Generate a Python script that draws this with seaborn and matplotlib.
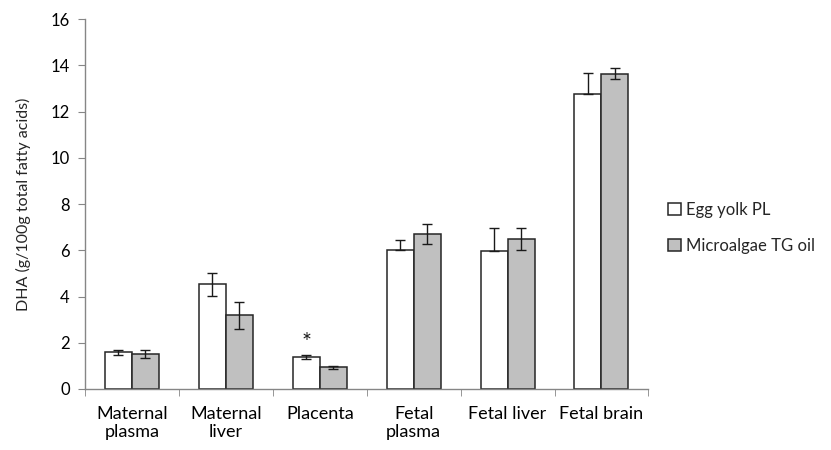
import seaborn as sns
import matplotlib.pyplot as plt
import pandas as pd

# chart values
tissues = ['Maternal\nplasma', 'Maternal\nliver', 'Placenta', 'Fetal\nplasma', 'Fetal liver', 'Fetal brain']
groups = ['Egg yolk PL', 'Microalgae TG oil']
egg_yolk = [1.59, 4.52, 1.37, 6.02, 5.97, 12.77]
egg_yolk_err_low = [0.10, 0.48, 0.08, 0.0, 0.0, 0.0]
egg_yolk_err_high = [0.10, 0.48, 0.08, 0.44, 1.01, 0.88]
microalgae = [1.52, 3.18, 0.94, 6.70, 6.50, 13.63]
microalgae_err = [0.18, 0.58, 0.07, 0.45, 0.48, 0.24]

sns.set_style('white')
plt.rcParams['font.family'] = ['Lato', 'DejaVu Sans']

df = pd.DataFrame({
    'tissue': tissues * 2,
    'group': [groups[0]] * len(tissues) + [groups[1]] * len(tissues),
    'dha': egg_yolk + microalgae,
})

fig = plt.figure(figsize=(8.31, 4.5), dpi=100)
ax = fig.add_axes([0.1023, 0.1356, 0.678, 0.822])

sns.barplot(data=df, x='tissue', y='dha', hue='group', hue_order=groups,
            palette={groups[0]: 'white', groups[1]: '#c0c0c0'},
            edgecolor='#262626', linewidth=1.1, width=0.575, gap=0,
            errorbar=None, ax=ax)

# error bars on top of each bar
errs = [(egg_yolk_err_low, egg_yolk_err_high), (microalgae_err, microalgae_err)]
for cont, (lo, hi) in zip(ax.containers, errs):
    xs = [p.get_x() + p.get_width() / 2 for p in cont.patches]
    ys = [p.get_height() for p in cont.patches]
    ax.errorbar(xs, ys, yerr=[lo, hi], fmt='none', ecolor='#1a1a1a',
                elinewidth=1.0, capsize=3.5, capthick=1.0, zorder=5)

# significance marker over the placenta egg yolk bar
p = ax.containers[0].patches[2]
ax.text(p.get_x() + p.get_width() / 2, egg_yolk[2] + 0.2, '*', ha='center',
        va='bottom', fontsize=17, color='#1a1a1a')

ax.set_ylim(0, 16)
ax.set_xlim(-0.5, len(tissues) - 0.5)
ax.set_yticks(range(0, 17, 2))
ax.set_xticks([i - 0.5 for i in range(len(tissues) + 1)], minor=True)
ax.tick_params(axis='x', which='major', length=0, labelsize=13, pad=12, colors='black')
ax.tick_params(axis='x', which='minor', length=5, color='#868686', direction='out', bottom=True)
ax.tick_params(axis='y', length=5, color='#868686', direction='out', left=True,
               labelsize=12, labelcolor='black', pad=6)

for side in ['top', 'right']:
    ax.spines[side].set_visible(False)
for side in ['left', 'bottom']:
    ax.spines[side].set_color('#868686')
    ax.spines[side].set_linewidth(1.0)

ax.set_xlabel('')
ax.set_ylabel('DHA (g/100g total fatty acids)', fontsize=11.5, labelpad=14)

sns.move_legend(ax, 'center left', bbox_to_anchor=(1.035, 0.435), frameon=False,
                title=None, fontsize=12, handlelength=0.75, handleheight=0.75,
                handletextpad=0.35, labelspacing=1.2, borderpad=0, borderaxespad=0)

fig.savefig('out.png', dpi=100)
